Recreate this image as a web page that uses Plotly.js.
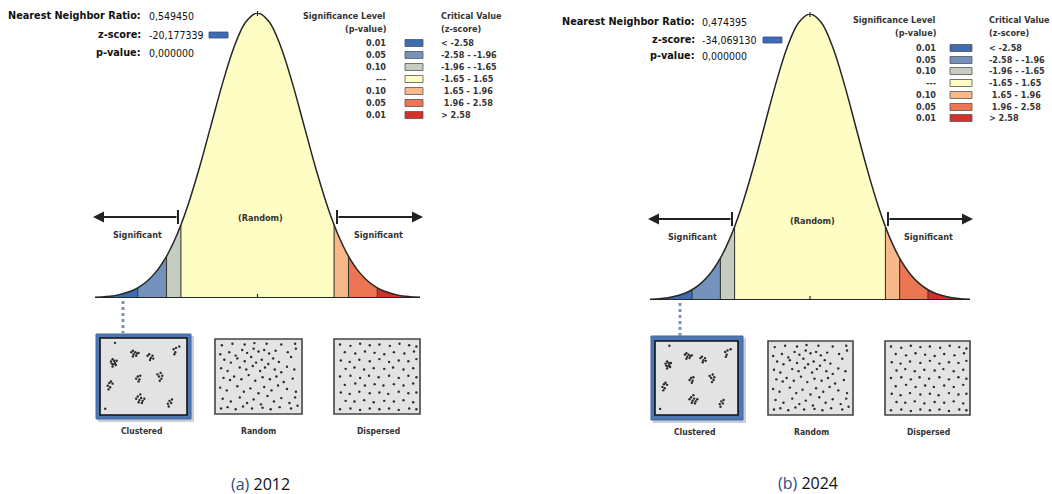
<!DOCTYPE html>
<html>
<head>
<meta charset="utf-8">
<script src="https://cdn.plot.ly/plotly-3.0.1.min.js"></script>
<style>html,body{margin:0;padding:0;background:#fff;}#chart{width:1052px;height:494px;}</style>
</head>
<body>
<div id="chart"></div>
<script>
// ---------------- DATA ----------------
const panelTags = ['(a)', '(b)'];
const years = ['2012', '2024'];
const nnRatio = ['0,549450', '0,474395'];
const zScore = ['-20,177339', '-34,069130'];
const pValue = ['0,000000', '0,000000'];

const sigLevels = ['0.01', '0.05', '0.10', '---', '0.10', '0.05', '0.01'];
const critValues = ['< -2.58', '-2.58 - -1.96', '-1.96 - -1.65', '-1.65 - 1.65', '\u00a01.65 - 1.96', '\u00a01.96 - 2.58', '> 2.58'];
const sigColors = ['#3e6cb3', '#7592bd', '#c4cdc0', '#fefec4', '#f8b88a', '#ec7654', '#d3322b'];
const zBounds = [-3.5, -2.58, -1.96, -1.65, 1.65, 1.96, 2.58, 3.5];

// bell curve (z-score vs. density)
const zGrid = [-3.5, -3.25, -3, -2.75, -2.58, -2.4, -2.2, -1.96, -1.8, -1.65, -1.5, -1.25, -1, -0.75, -0.5, -0.25, 0,
               0.25, 0.5, 0.75, 1, 1.25, 1.5, 1.65, 1.8, 1.96, 2.2, 2.4, 2.58, 2.75, 3, 3.25, 3.5];
const curveDensity = [0.0009, 0.0020, 0.0044, 0.0091, 0.0143, 0.0224, 0.0355, 0.0584, 0.0790, 0.1023, 0.1295, 0.1826, 0.2420, 0.3011, 0.3521, 0.3867, 0.3989,
                      0.3867, 0.3521, 0.3011, 0.2420, 0.1826, 0.1295, 0.1023, 0.0790, 0.0584, 0.0355, 0.0224, 0.0143, 0.0091, 0.0044, 0.0020, 0.0009];

const patternLabels = ['Clustered', 'Random', 'Dispersed'];

const clusteredPts = [
  [10,71],[12,74],[14,72],[11,68],[13,67],[15,69],[17,72],[16,66],[12,64],
  [35,84],[37,86],[38,81],[40,84],[42,82],[41,79],[44,83],[37,78],
  [55,79],[57,81],[59,76],[61,79],[62,75],[58,73],
  [87,88],[89,84],[90,90],[88,81],
  [41,47],[43,50],[45,46],[46,51],[44,43],
  [67,53],[69,50],[71,55],[72,47],[70,44],[73,51],
  [6,37],[8,41],[10,43],[9,35],[12,40],[7,32],
  [41,19],[43,22],[45,17],[47,20],[49,16],[46,25],[48,13],[44,14],[51,19],
  [80,12],[82,16],[84,13],[85,18],[81,8],
  [15,97],[94,92],[3,5]
];
const randomPts = [
  [5,95],[18,97],[33,96],[45,98],[60,97],[78,96],[95,97],
  [3,82],[14,85],[22,80],[30,88],[36,84],[44,90],[50,86],[57,88],[63,83],[71,87],[86,85],[96,90],
  [8,74],[16,70],[24,76],[33,72],[41,78],[47,70],[54,74],[62,68],[68,76],[75,71],[90,78],
  [4,62],[12,58],[27,63],[35,60],[43,65],[52,58],[58,63],[70,60],[78,56],[85,64],[94,60],
  [7,48],[15,45],[20,50],[29,46],[38,52],[46,44],[55,49],[64,46],[72,50],[81,42],[92,47],
  [3,34],[11,30],[24,36],[32,28],[40,33],[50,26],[57,35],[66,30],[74,37],[85,32],[96,28],
  [6,18],[16,14],[27,20],[36,12],[44,17],[53,10],[61,22],[69,14],[78,19],[88,12],[95,20],
  [4,4],[12,6],[22,3],[31,7],[42,4],[55,5],[65,3],[76,6],[90,4],[98,8]
];
const dispersedPts = [
  [4,96],[17,94],[29,97],[41,95],[53,96],[66,94],[78,97],[90,95],[99,93],
  [10,85],[23,83],[35,86],[47,84],[59,82],[71,85],[84,83],[96,86],
  [5,73],[16,71],[28,74],[41,72],[53,75],[65,71],[77,73],[89,72],[99,75],
  [11,61],[22,63],[34,60],[46,62],[59,61],[70,63],[83,60],[95,62],
  [4,50],[17,51],[29,48],[40,51],[52,49],[65,51],[77,48],[89,51],[99,49],
  [10,38],[23,40],[35,37],[47,39],[58,37],[71,39],[83,37],[95,40],
  [5,27],[16,25],[28,28],[41,26],[53,27],[64,25],[77,28],[89,26],[99,27],
  [11,15],[22,14],[34,16],[46,13],[59,15],[71,14],[83,16],[95,13],
  [4,3],[17,4],[29,2],[41,4],[53,3],[65,4],[77,2],[90,4],[99,3]
];
const patternPts = [clusteredPts, randomPts, dispersedPts];

// ---------------- LAYOUT HELPERS ----------------
const W = 1052, H = 494;
const fx = p => p / W;
const fy = p => 1 - p / H;
const FONT = '"DejaVu Sans Condensed", "DejaVu Sans", sans-serif';

const panels = [
  {
    curve: {x0: 95, x1: 420, base: 298, peak: 13},
    stats: {labelX: 143, valX: 147, rows: [16, 35, 53], rect: [209, 228]},
    legend: {pX: 388, swX: [405, 423], cX: 439, head: [16, 29], rows: [43, 55, 67, 79, 91, 103, 115]},
    arrows: {y: 217, lHead: 93, lBar: 178, rHead: 423, rBar: 337},
    sigY: 235, sigX: [137, 378], randomXY: [260, 218],
    dotX: 123, dotY: [301, 333],
    boxes: [
      {x0: 100, x1: 187, y0: 338, y1: 415, outer: [96, 191, 334, 419]},
      {x0: 215, x1: 302, y0: 339, y1: 414},
      {x0: 334, x1: 420, y0: 339, y1: 414}
    ],
    labelY: 431, labelX: [142, 258, 378],
    caption: [260, 484]
  },
  {
    curve: {x0: 650, x1: 970, base: 300, peak: 14},
    stats: {labelX: 697, valX: 700, rows: [22, 40, 56], rect: [763, 782]},
    legend: {pX: 938, swX: [950, 972], cX: 987, head: [20, 33], rows: [48, 60, 71, 83, 95, 107, 118]},
    arrows: {y: 219, lHead: 648, lBar: 732, rHead: 973, rBar: 888},
    sigY: 237, sigX: [692, 928], randomXY: [812, 221],
    dotX: 680, dotY: [303, 336],
    boxes: [
      {x0: 655, x1: 738, y0: 341, y1: 415, outer: [651, 743, 336, 420]},
      {x0: 768, x1: 853, y0: 341, y1: 415},
      {x0: 885, x1: 970, y0: 341, y1: 415}
    ],
    labelY: 432, labelX: [695, 811, 928],
    caption: [808, 483]
  }
];

const traces = [];
const shapes = [];
const annotations = [];
const layout = {
  width: W, height: H,
  margin: {l: 0, r: 0, t: 0, b: 0},
  paper_bgcolor: '#ffffff', plot_bgcolor: 'rgba(0,0,0,0)',
  showlegend: false,
  shapes: shapes, annotations: annotations
};

function txt(x, y, text, size, anchor, color, family) {
  annotations.push({
    xref: 'paper', yref: 'paper', x: fx(x), y: fy(y), text: text, showarrow: false,
    xanchor: anchor || 'center', yanchor: 'middle',
    font: {family: family || FONT, size: size, color: color || '#222'}
  });
}
function rect(x0, x1, y0, y1, fill, lineColor, lineWidth) {
  shapes.push({type: 'rect', xref: 'paper', yref: 'paper', x0: fx(x0), x1: fx(x1), y0: fy(y1), y1: fy(y0),
    fillcolor: fill, line: {color: lineColor || fill, width: lineWidth === undefined ? 0 : lineWidth}, layer: 'below'});
}
function pline(x0, y0, x1, y1, color, width, dash) {
  shapes.push({type: 'line', xref: 'paper', yref: 'paper', x0: fx(x0), y0: fy(y0), x1: fx(x1), y1: fy(y1),
    line: {color: color, width: width, dash: dash || 'solid'}});
}
function densityAt(z) { return curveDensity[zGrid.indexOf(z)]; }
const peakDensity = Math.max(...curveDensity);

panels.forEach((P, i) => {
  // ---------- bell curve axes ----------
  const sfx = i === 0 ? '' : String(i + 1);
  const xa = 'x' + sfx, ya = 'y' + sfx;
  layout['xaxis' + sfx] = {domain: [fx(P.curve.x0), fx(P.curve.x1)], range: [zGrid[0], zGrid[zGrid.length - 1]],
    visible: false, fixedrange: true, anchor: ya};
  layout['yaxis' + sfx] = {domain: [fy(P.curve.base), fy(P.curve.peak)], range: [0, peakDensity],
    visible: false, fixedrange: true, anchor: xa};

  // filled significance segments
  for (let s = 0; s < zBounds.length - 1; s++) {
    const lo = zBounds[s], hi = zBounds[s + 1];
    const xs = [], ys = [];
    zGrid.forEach((z, k) => { if (z >= lo - 1e-9 && z <= hi + 1e-9) { xs.push(z); ys.push(curveDensity[k]); } });
    traces.push({type: 'scatter', mode: 'lines', x: xs, y: ys, xaxis: xa, yaxis: ya,
      line: {width: 0, shape: 'spline', smoothing: 1}, fill: 'tozeroy', fillcolor: sigColors[s], hoverinfo: 'skip'});
  }
  // dividers
  zBounds.slice(1, -1).forEach(b => {
    traces.push({type: 'scatter', mode: 'lines', x: [b, b], y: [0, densityAt(b)], xaxis: xa, yaxis: ya,
      line: {color: '#3a3a32', width: 1.1}, hoverinfo: 'skip'});
  });
  // outline
  traces.push({type: 'scatter', mode: 'lines', x: zGrid, y: curveDensity, xaxis: xa, yaxis: ya,
    line: {color: '#262626', width: 1.5, shape: 'spline', smoothing: 1}, hoverinfo: 'skip'});
  // baseline
  traces.push({type: 'scatter', mode: 'lines', x: [zGrid[0], zGrid[zGrid.length - 1]], y: [0, 0], xaxis: xa, yaxis: ya,
    line: {color: '#262626', width: 2}, hoverinfo: 'skip', cliponaxis: false});
  // centre ticks
  shapes.push({type: 'line', xref: xa, yref: 'paper', x0: 0, x1: 0, y0: fy(P.curve.base), y1: fy(P.curve.base - 4), line: {color: '#262626', width: 1.2}});
  shapes.push({type: 'line', xref: xa, yref: 'paper', x0: 0, x1: 0, y0: fy(P.curve.peak + 3), y1: fy(P.curve.peak - 2), line: {color: '#262626', width: 1.2}});

  // ---------- arrows & labels ----------
  const A = P.arrows;
  annotations.push({xref: 'paper', yref: 'paper', x: fx(A.lHead), y: fy(A.y), ax: A.lBar - A.lHead, ay: 0, text: '',
    showarrow: true, arrowhead: 2, arrowsize: 1.1, arrowwidth: 2, arrowcolor: '#222'});
  annotations.push({xref: 'paper', yref: 'paper', x: fx(A.rHead), y: fy(A.y), ax: A.rBar - A.rHead, ay: 0, text: '',
    showarrow: true, arrowhead: 2, arrowsize: 1.1, arrowwidth: 2, arrowcolor: '#222'});
  pline(A.lBar, A.y - 7, A.lBar, A.y + 7, '#222', 2);
  pline(A.rBar, A.y - 7, A.rBar, A.y + 7, '#222', 2);
  txt(P.sigX[0], P.sigY, '<b>Significant</b>', 9, 'center', '#333');
  txt(P.sigX[1], P.sigY, '<b>Significant</b>', 9, 'center', '#333');
  txt(P.randomXY[0], P.randomXY[1], '<b>(Random)</b>', 9, 'center', '#333');

  // ---------- statistics ----------
  const S = P.stats;
  txt(S.labelX, S.rows[0], '<b>Nearest Neighbor Ratio:</b>', 10.8, 'right', '#111');
  txt(S.valX, S.rows[0], nnRatio[i], 10.5, 'left', '#111');
  txt(S.labelX, S.rows[1], '<b>z-score:</b>', 10.8, 'right', '#111');
  txt(S.valX, S.rows[1], zScore[i], 10.5, 'left', '#111');
  txt(S.labelX, S.rows[2], '<b>p-value:</b>', 10.8, 'right', '#111');
  txt(S.valX, S.rows[2], pValue[i], 10.5, 'left', '#111');
  rect(S.rect[0], S.rect[1], S.rows[1] - 3, S.rows[1] + 3, sigColors[0], '#2b4f8a', 0.8);

  // ---------- significance legend ----------
  const L = P.legend;
  txt(L.pX, L.head[0], '<b>Significance Level</b>', 9, 'right', '#333');
  txt(L.pX, L.head[1], '<b>(p-value)</b>', 9, 'right', '#333');
  txt(L.cX, L.head[0], '<b>Critical Value</b>', 9, 'left', '#333');
  txt(L.cX, L.head[1], '<b>(z-score)</b>', 9, 'left', '#333');
  L.rows.forEach((ry, k) => {
    txt(L.pX, ry, '<b>' + sigLevels[k] + '</b>', 9, 'right', '#333');
    txt(L.cX, ry, '<b>' + critValues[k] + '</b>', 9, 'left', '#333');
    rect(L.swX[0], L.swX[1], ry - 3.5, ry + 3.5, sigColors[k], '#555', 0.8);
  });

  // ---------- dotted link to the clustered box ----------
  pline(P.dotX, P.dotY[0], P.dotX, P.dotY[1], '#7f91b0', 3, 'dot');

  // ---------- pattern boxes ----------
  P.boxes.forEach((B, k) => {
    if (B.outer) {
      const o = B.outer;
      rect(o[0] + 2, o[1] + 3, o[2] + 2, o[3] + 3, '#c9ced8');
      rect(o[0], o[1], o[2], o[3], '#4d76b3', '#3f66a3', 1);
      rect(B.x0, B.x1, B.y0, B.y1, '#e3e3e3', '#111', 1.6);
    } else {
      rect(B.x0, B.x1, B.y0, B.y1, '#e3e3e3', '#444', 1.6);
    }
    const n = 3 + i * 3 + k;
    layout['xaxis' + n] = {domain: [fx(B.x0 + 2), fx(B.x1 - 2)], range: [-1, 101], visible: false, fixedrange: true, anchor: 'y' + n};
    layout['yaxis' + n] = {domain: [fy(B.y1 - 2), fy(B.y0 + 2)], range: [-1, 101], visible: false, fixedrange: true, anchor: 'x' + n};
    const pts = patternPts[k];
    traces.push({type: 'scatter', mode: 'markers', x: pts.map(p => p[0]), y: pts.map(p => p[1]),
      xaxis: 'x' + n, yaxis: 'y' + n, marker: {size: 2.4, color: '#2a2a2a'}, hoverinfo: 'skip', cliponaxis: false});
    txt(P.labelX[k], P.labelY, '<b>' + patternLabels[k] + '</b>', 8.5, 'center', '#333');
  });

  // ---------- caption ----------
  txt(P.caption[0], P.caption[1], '<span style="color:#2f4b7c">' + panelTags[i] + '</span> ' + years[i], 16, 'center', '#111', '"Open Sans", "Noto Sans", sans-serif');
});

Plotly.newPlot('chart', traces, layout, {displayModeBar: false, staticPlot: true});
</script>
</body>
</html>
